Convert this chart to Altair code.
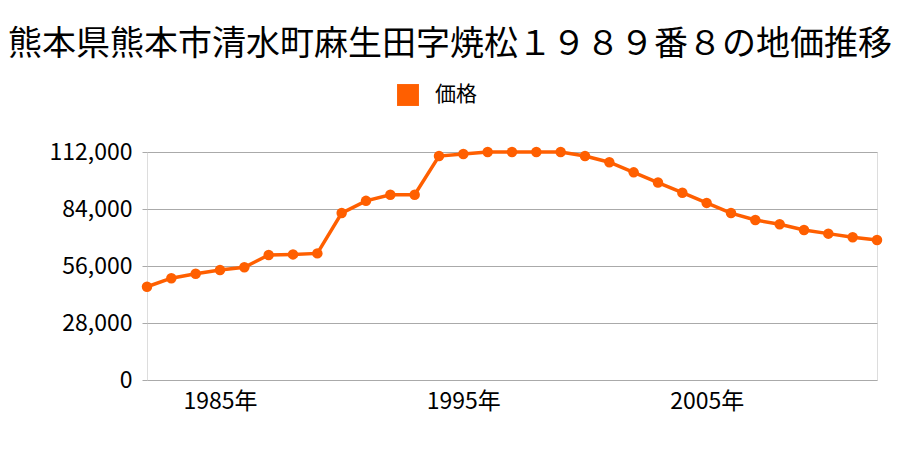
import altair as alt
import pandas as pd

years = list(range(1982, 2013))
prices = [45800, 50000, 52200, 54000, 55400, 61400, 61700, 62200, 82000, 88000,
          91000, 91000, 110000, 111000, 112000, 112000, 112000, 112000, 110000, 107000,
          102000, 97000, 92000, 87000, 82000, 78600, 76500, 73700, 71900, 70100, 68800]
series = ["価格"] * len(years)

df = pd.DataFrame({"year": years, "price": prices, "series": series})

FONT = "Noto Sans CJK JP"
COLOR = "#ff5f00"

base = alt.Chart(df).encode(
    x=alt.X("year:Q",
            scale=alt.Scale(domain=[1982, 2012], nice=False, zero=False),
            axis=alt.Axis(values=[1985, 1995, 2005], labelExpr="datum.value + '年'",
                          grid=False, domain=False, ticks=False, title=None,
                          labelFontSize=23, labelFont=FONT, labelColor="#000",
                          labelPadding=10)),
    y=alt.Y("price:Q",
            scale=alt.Scale(domain=[0, 112000], nice=False),
            axis=alt.Axis(values=[0, 28000, 56000, 84000, 112000], format=",.0f",
                          grid=True, gridColor="#aaaaaa", gridWidth=1,
                          domain=False, ticks=True, tickColor="#aaaaaa", tickSize=5,
                          title=None, labelFontSize=23, labelFont=FONT,
                          labelColor="#000", labelPadding=10)),
    color=alt.Color("series:N", scale=alt.Scale(range=[COLOR]),
                    legend=alt.Legend(title=None, orient="none", legendX=250, legendY=-68,
                                      symbolType="square", symbolSize=480,
                                      symbolStrokeWidth=0,
                                      labelFontSize=21, labelFont=FONT,
                                      labelColor="#000", labelOffset=16)),
)

line = base.mark_line(strokeWidth=3.5)
points = base.mark_circle(size=110, opacity=1)

chart = alt.layer(line, points).properties(
    width=730, height=228,
    title=alt.TitleParams("熊本県熊本市清水町麻生田字焼松１９８９番８の地価推移",
                          font=FONT, fontSize=34, fontWeight="normal", color="#000",
                          anchor="middle", dx=-62, offset=22),
    autosize=alt.AutoSizeParams(type="none"),
    padding={"left": 147, "top": 152, "right": 23, "bottom": 70},
).configure_view(stroke="transparent").configure(background="white")

chart.save("out.html", embed_options={"renderer": "svg", "actions": False})
